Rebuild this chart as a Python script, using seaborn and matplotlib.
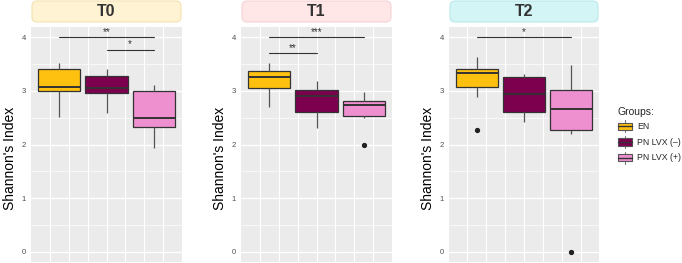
import numpy as np
import pandas as pd
import matplotlib
matplotlib.use("Agg")
import matplotlib.pyplot as plt
import seaborn as sns
from matplotlib.patches import Rectangle, FancyBboxPatch
from matplotlib.lines import Line2D
from matplotlib.legend_handler import HandlerBase

# ---------------- data ----------------
times = ["T0", "T1", "T2"]
groups = ["EN", "PN LVX (–)", "PN LVX (+)"]

t0_en = [2.51, 3.00, 3.07, 3.41, 3.51]
t0_pn_neg = [2.58, 2.96, 3.05, 3.27, 3.41]
t0_pn_pos = [1.94, 2.33, 2.49, 2.99, 3.10]

t1_en = [2.70, 3.05, 3.25, 3.37, 3.51]
t1_pn_neg = [2.31, 2.60, 2.90, 3.01, 3.18]
t1_pn_pos = [1.99, 2.49, 2.54, 2.54, 2.74, 2.82, 2.82, 2.97, 2.97]

t2_en = [2.27, 2.88, 3.07, 3.07, 3.33, 3.41, 3.41, 3.64, 3.64]
t2_pn_neg = [2.42, 2.61, 2.94, 3.25, 3.31]
t2_pn_pos = [0.00, 2.19, 2.27, 2.27, 2.67, 3.01, 3.01, 3.48, 3.48]

# significance comparisons per panel: (group_a, group_b, height, label)
t0_sig = [("EN", "PN LVX (+)", 4.00, "**"), ("PN LVX (–)", "PN LVX (+)", 3.77, "*")]
t1_sig = [("EN", "PN LVX (+)", 4.00, "***"), ("EN", "PN LVX (–)", 3.70, "**")]
t2_sig = [("EN", "PN LVX (+)", 4.00, "*")]

colors = ["#FEC10F", "#7D004F", "#EE8FD0"]
strip_colors = ["#FFF3D3", "#FFE7E8", "#D3F5F6"]
strip_edges = ["#F3E2B0", "#F6D3D5", "#B8E8EA"]

panel_data = {
    "T0": [t0_en, t0_pn_neg, t0_pn_pos],
    "T1": [t1_en, t1_pn_neg, t1_pn_pos],
    "T2": [t2_en, t2_pn_neg, t2_pn_pos],
}
panel_sig = {"T0": t0_sig, "T1": t1_sig, "T2": t2_sig}

rows = []
for t in times:
    for g, vals in zip(groups, panel_data[t]):
        for v in vals:
            rows.append({"time": t, "group": g, "value": v})
df = pd.DataFrame(rows)

# ---------------- figure ----------------
sns.set_style("white")
plt.rcParams["font.family"] = ["Liberation Sans", "DejaVu Sans"]

W, H = 682, 263
fig = plt.figure(figsize=(W / 100, H / 100), dpi=100)

panel_px = [(31, 182), (241, 392), (449, 599)]
top_px, bot_px = 27, 262

for i, t in enumerate(times):
    l, r = panel_px[i]
    ax = fig.add_axes([l / W, 1 - bot_px / H, (r - l) / W, (bot_px - top_px) / H])
    sub = df[df["time"] == t]
    sns.boxplot(
        data=sub, x="group", y="value", hue="group",
        order=groups, hue_order=groups, palette=colors, saturation=1,
        width=0.9, linewidth=0.9, linecolor="#333333",
        showcaps=False, legend=False, ax=ax,
        medianprops=dict(color="#333333", linewidth=1.4),
        whiskerprops=dict(color="#555555", linewidth=0.9),
        flierprops=dict(marker="o", markerfacecolor="#222222",
                        markeredgecolor="#222222", markersize=2.8),
    )
    ax.set_facecolor("#EBEBEB")
    for s in ax.spines.values():
        s.set_visible(False)
    ax.set_xlim(-0.59, 2.59)
    ax.set_ylim(-0.19, 4.19)
    ax.set_xticks(np.arange(-0.2, 2.3, 0.4))
    ax.set_xticklabels([])
    ax.tick_params(axis="x", length=0)
    ax.set_yticks([0, 1, 2, 3, 4])
    ax.set_yticks([0.5, 1.5, 2.5, 3.5], minor=True)
    ax.tick_params(axis="y", which="major", labelsize=5.5, labelcolor="#4D4D4D",
                   length=2, width=0.6, color="#333333", pad=1.5)
    ax.tick_params(axis="y", which="minor", length=0)
    ax.grid(True, axis="x", color="white", linewidth=0.8)
    ax.grid(True, axis="y", which="major", color="white", linewidth=1.0)
    ax.grid(True, axis="y", which="minor", color="white", linewidth=0.5)
    ax.set_axisbelow(True)
    ax.set_xlabel("")
    ax.set_ylabel("Shannon's Index", fontsize=10, color="black")
    ax.yaxis.set_label_coords(-0.095, 0.44)

    for ga, gb, h, lab in panel_sig[t]:
        xa, xb = groups.index(ga), groups.index(gb)
        ax.plot([xa, xb], [h, h], color="#333333", linewidth=0.8, zorder=5)
        ax.text((xa + xb) / 2, h + 0.0, lab, ha="center", va="bottom",
                fontsize=7, color="#333333", zorder=5)

    # strip
    x0 = (l + 1) / 100
    x1 = (r - 1) / 100
    y0 = (H - 22) / 100
    y1 = (H - 1) / 100
    strip = FancyBboxPatch((x0, y0), x1 - x0, y1 - y0,
                           boxstyle="round,pad=0,rounding_size=0.05",
                           transform=fig.dpi_scale_trans,
                           facecolor=strip_colors[i], edgecolor=strip_edges[i],
                           linewidth=0.8)
    fig.add_artist(strip)
    fig.text((l + r) / 2 / W, 1 - 11.5 / H, t, ha="center", va="center",
             fontsize=11.5, fontweight="bold", color="#333333")


class BoxKey(HandlerBase):
    def create_artists(self, legend, orig_handle, xdescent, ydescent,
                       width, height, fontsize, trans):
        fc = orig_handle.get_facecolor()
        x0, y0 = -xdescent, -ydescent
        cx = x0 + width / 2
        rect = Rectangle((x0, y0 + 0.18 * height), width, 0.64 * height,
                         facecolor=fc, edgecolor="#555555", linewidth=0.8,
                         transform=trans)
        med = Line2D([x0, x0 + width], [y0 + 0.5 * height] * 2,
                     color="#333333", linewidth=1.0, transform=trans)
        w1 = Line2D([cx, cx], [y0, y0 + 0.18 * height],
                    color="#777777", linewidth=0.8, transform=trans)
        w2 = Line2D([cx, cx], [y0 + 0.82 * height, y0 + height],
                    color="#777777", linewidth=0.8, transform=trans)
        return [w1, w2, rect, med]


handles = [Rectangle((0, 0), 1, 1, facecolor=c) for c in colors]
leg = fig.legend(handles, groups, title="Groups:", loc="upper left",
                 bbox_to_anchor=(610 / W, 1 - 99 / H), frameon=False,
                 fontsize=6.3, title_fontsize=7.5, handlelength=1.6,
                 handleheight=1.75, handletextpad=0.6, labelspacing=0.4,
                 handler_map={Rectangle: BoxKey()})
leg._legend_box.align = "left"

fig.savefig("out.png", dpi=100)
